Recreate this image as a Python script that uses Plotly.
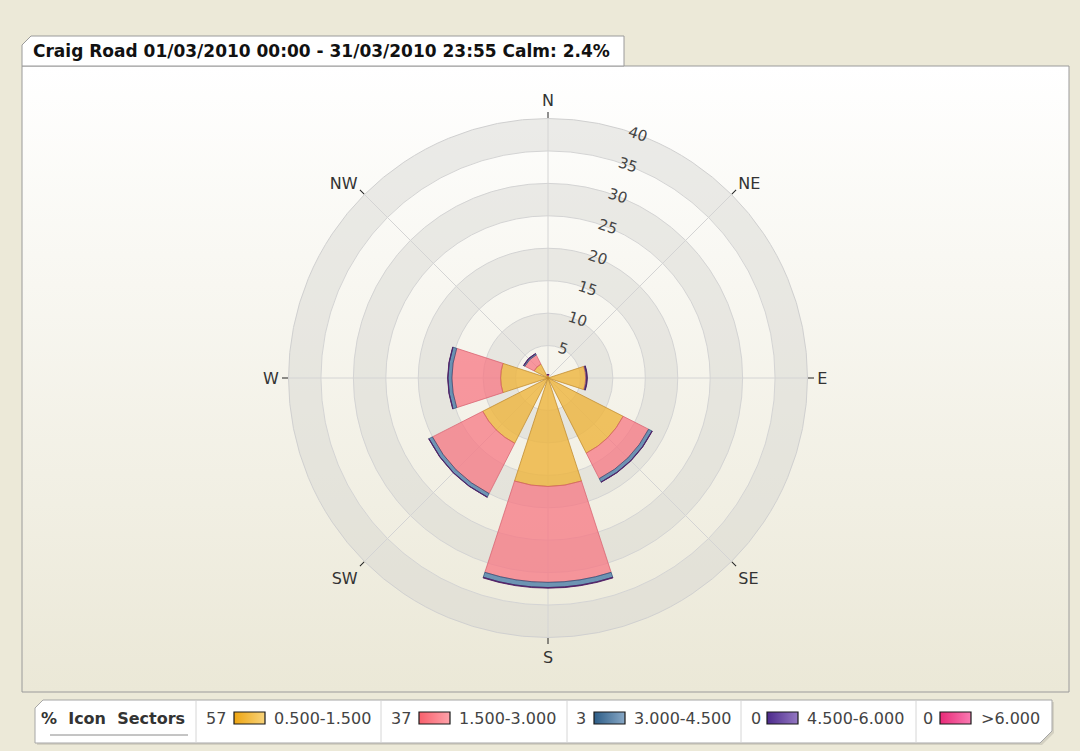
import base64
import plotly.graph_objects as go

# ---- data -------------------------------------------------------------
directions = ["N", "NE", "E", "SE", "S", "SW", "W", "NW"]
direction_deg = [0, 45, 90, 135, 180, 225, 270, 315]

speed_bins = ["0.500-1.500", "1.500-3.000", "3.000-4.500", "4.500-6.000", ">6.000"]

# frequency (% of all records) per direction, one list per wind-speed band
freq_0500_1500 = [0.4, 0.1, 5.8, 13.0, 16.7, 11.3, 7.3, 2.4]
freq_1500_3000 = [0.1, 0.0, 0.1, 4.4, 14.8, 8.7, 7.5, 1.6]
freq_3000_4500 = [0.0, 0.0, 0.1, 0.6, 0.8, 0.6, 0.6, 0.2]
freq_4500_6000 = [0.05, 0.0, 0.05, 0.05, 0.1, 0.05, 0.05, 0.05]
freq_over_6000 = [0.0, 0.0, 0.0, 0.0, 0.0, 0.0, 0.0, 0.0]

calm_pct = 2.4
station = "Craig Road"
period_start = "01/03/2010 00:00"
period_end = "31/03/2010 23:55"

radial_ticks = [5, 10, 15, 20, 25, 30, 35, 40]

# ---- styling ----------------------------------------------------------
W, H = 1080, 751
FONT = "DejaVu Sans"

band_series = [freq_0500_1500, freq_1500_3000, freq_3000_4500,
               freq_4500_6000, freq_over_6000]
band_fill = ["rgba(238,180,60,0.80)", "rgba(247,118,130,0.74)",
             "rgba(80,128,170,0.82)", "rgba(92,42,112,0.92)",
             "rgba(232,50,125,0.85)"]
band_edge = ["rgba(190,135,40,0.9)", "rgba(215,95,110,0.9)",
             "rgba(45,80,120,0.9)", "rgba(80,30,100,1)",
             "rgba(180,30,90,1)"]
swatch_grad = [("#eea512", "#f8d37a"), ("#f8606c", "#ffa2aa"),
               ("#2d5d87", "#88a8c6"), ("#4c2a8c", "#9478c2"),
               ("#e82a78", "#fa7ab2")]


def px(x):
    return x / W


def py(y):
    return 1 - y / H


def gradient_uri(c0, c1, horizontal):
    x2, y2 = ("1", "0") if horizontal else ("0", "1")
    svg = ("<svg xmlns='http://www.w3.org/2000/svg' width='100' height='100' "
           "preserveAspectRatio='none'><defs><linearGradient id='g' x1='0' y1='0' "
           f"x2='{x2}' y2='{y2}'><stop offset='0' stop-color='{c0}'/>"
           f"<stop offset='1' stop-color='{c1}'/></linearGradient></defs>"
           "<rect width='100' height='100' fill='url(#g)'/></svg>")
    return "data:image/svg+xml;base64," + base64.b64encode(svg.encode()).decode()


def poly_path(pts):
    return "M " + " L ".join(f"{px(x)},{py(y)}" for x, y in pts) + " Z"


# polar area: centre (548, 378), outer radius 259.5 px
cx, cy, rad = 548, 378, 259.5
dom_x = [px(cx - rad), px(cx + rad)]
dom_y = [py(cy + rad), py(cy - rad)]

fig = go.Figure()

# alternating shaded rings behind the rose
fig.add_trace(go.Barpolar(
    r=[radial_ticks[1] - radial_ticks[0]] * 4,
    base=radial_ticks[0::2],
    theta=[0] * 4,
    width=[360] * 4,
    marker=dict(color="rgba(212,212,208,0.45)", line=dict(width=0)),
    subplot="polar", hoverinfo="skip", showlegend=False,
))

# stacked wind-speed bands
for name, series, fill, edge in zip(speed_bins, band_series, band_fill, band_edge):
    fig.add_trace(go.Barpolar(
        r=series, theta=direction_deg, width=[36] * len(series), name=name,
        marker=dict(color=fill, line=dict(color=edge, width=0.8)),
        subplot="polar2", hoverinfo="skip", showlegend=False,
    ))

shapes = []
images = []
annotations = []

# chart panel with a soft vertical gradient
images.append(dict(source=gradient_uri("#ffffff", "#ebe8d7", False),
                   xref="paper", yref="paper", x=px(22), y=py(66),
                   sizex=px(1069 - 22), sizey=(692 - 66) / H,
                   xanchor="left", yanchor="top", sizing="stretch", layer="below"))
shapes.append(dict(type="rect", xref="paper", yref="paper",
                   x0=px(22), x1=px(1069), y0=py(692), y1=py(66),
                   line=dict(color="#9a9a9a", width=1), layer="below"))

# title tab
tab = [(22, 66), (22, 45), (31, 36), (624, 36), (624, 66)]
shapes.append(dict(type="path", xref="paper", yref="paper", path=poly_path(tab),
                   fillcolor="#ffffff", line=dict(color="#9a9a9a", width=1),
                   layer="below"))
annotations.append(dict(
    text=f"<b>{station} {period_start} - {period_end} Calm: {calm_pct}%</b>",
    xref="paper", yref="paper", x=px(31), y=py(51), xanchor="left",
    yanchor="middle", showarrow=False, font=dict(family=FONT, size=17, color="#111")))

# legend strip
box = [(35, 708), (43, 700), (1052, 700), (1052, 731), (1040, 743), (35, 743)]
shadow = [(x + 2, y + 2) for x, y in box]
shapes.append(dict(type="path", xref="paper", yref="paper", path=poly_path(shadow),
                   fillcolor="rgba(0,0,0,0.10)", line=dict(width=0), layer="below"))
shapes.append(dict(type="path", xref="paper", yref="paper", path=poly_path(box),
                   fillcolor="#ffffff", line=dict(color="#a6a6a6", width=1),
                   layer="below"))
for xd in [196, 381, 567, 741, 916]:
    shapes.append(dict(type="line", xref="paper", yref="paper",
                       x0=px(xd), x1=px(xd), y0=py(701), y1=py(742),
                       line=dict(color="#d6d6d6", width=1), layer="below"))
shapes.append(dict(type="line", xref="paper", yref="paper",
                   x0=px(50), x1=px(188), y0=py(735), y1=py(735),
                   line=dict(color="#8a8a8a", width=1), layer="below"))

legend_y = 718
annotations.append(dict(text="<b>%  Icon  Sectors</b>", xref="paper", yref="paper",
                        x=px(39), y=py(legend_y), xanchor="left", yanchor="middle",
                        showarrow=False, font=dict(family=FONT, size=16, color="#333")))

count_x = [204, 389, 574, 749, 921]
swatch_x = [234, 419, 594, 767, 940]
label_x = [272, 457, 632, 805, 979]
for i, (name, series) in enumerate(zip(speed_bins, band_series)):
    pct = round(sum(series))
    annotations.append(dict(text=str(pct), xref="paper", yref="paper",
                            x=px(count_x[i]), y=py(legend_y), xanchor="left",
                            yanchor="middle", showarrow=False,
                            font=dict(family=FONT, size=16, color="#444")))
    annotations.append(dict(text=name, xref="paper", yref="paper",
                            x=px(label_x[i]), y=py(legend_y), xanchor="left",
                            yanchor="middle", showarrow=False,
                            font=dict(family=FONT, size=16, color="#444")))
    c0, c1 = swatch_grad[i]
    images.append(dict(source=gradient_uri(c0, c1, True), xref="paper", yref="paper",
                       x=px(swatch_x[i]), y=py(712), sizex=px(31), sizey=12 / H,
                       xanchor="left", yanchor="top", sizing="stretch", layer="above"))
    shapes.append(dict(type="rect", xref="paper", yref="paper",
                       x0=px(swatch_x[i]), x1=px(swatch_x[i] + 31),
                       y0=py(724), y1=py(712),
                       line=dict(color="#1a1a1a", width=1.2), layer="above"))

fig.update_layout(
    width=W, height=H,
    margin=dict(l=0, r=0, t=0, b=0),
    paper_bgcolor="#ece9d8",
    font=dict(family=FONT, color="#333"),
    shapes=shapes, images=images, annotations=annotations,
    polar=dict(
        domain=dict(x=dom_x, y=dom_y),
        bgcolor="rgba(0,0,0,0)",
        barmode="overlay",
        radialaxis=dict(range=[0, radial_ticks[-1]], visible=False),
        angularaxis=dict(visible=False, direction="clockwise", rotation=90),
    ),
    polar2=dict(
        domain=dict(x=dom_x, y=dom_y),
        bgcolor="rgba(0,0,0,0)",
        barmode="stack",
        radialaxis=dict(
            range=[0, radial_ticks[-1]], tickmode="array", tickvals=radial_ticks,
            angle=72, tickangle=90, side="clockwise",
            showline=False, ticks="", gridcolor="#d4d4d4", gridwidth=1,
            tickfont=dict(family=FONT, size=15, color="#444"),
        ),
        angularaxis=dict(
            direction="clockwise", rotation=90, tickmode="array",
            tickvals=direction_deg, ticktext=directions,
            ticks="outside", ticklen=6, tickwidth=1, tickcolor="#222",
            showline=True, linecolor="#d0d0d0", gridcolor="#d4d4d4",
            tickfont=dict(family=FONT, size=16, color="#333"),
        ),
    ),
)

fig.write_html("out.html")
